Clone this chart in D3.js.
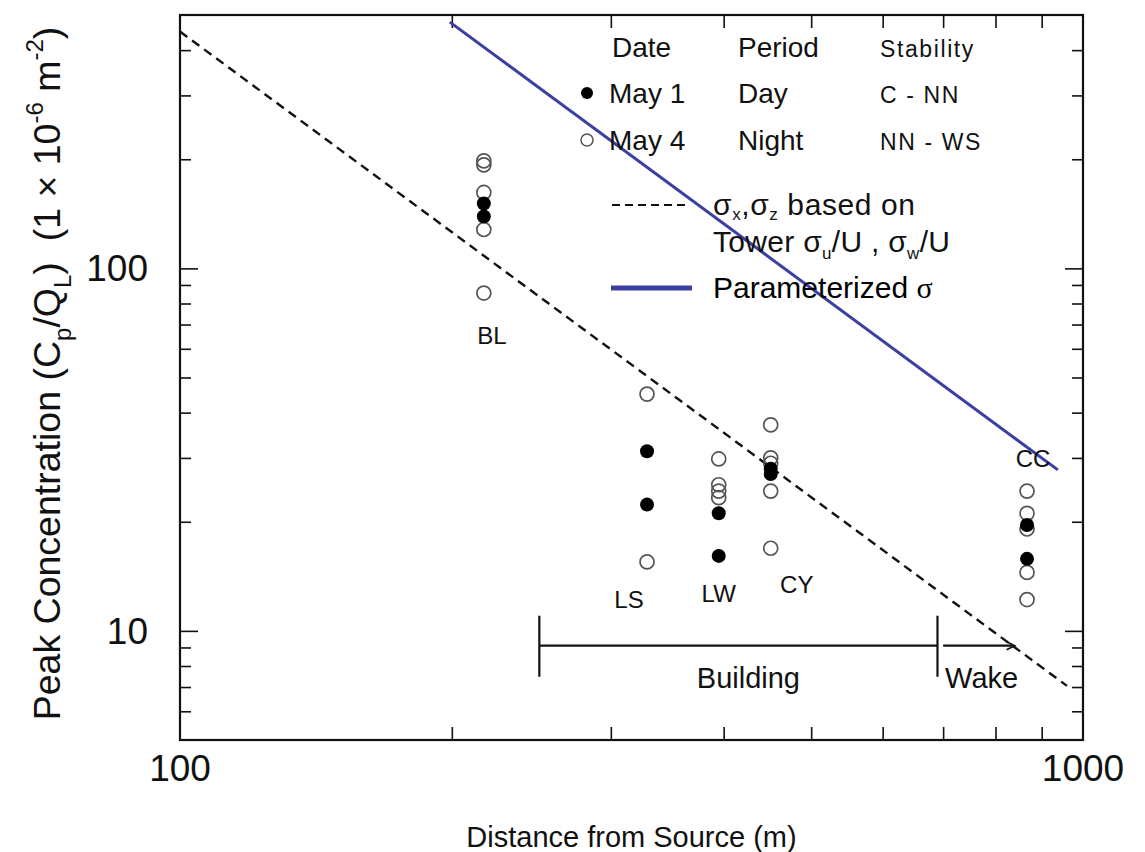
<!DOCTYPE html>
<html>
<head>
<meta charset="utf-8">
<script src="https://cdn.jsdelivr.net/npm/d3@7"></script>
<style>
    body { margin: 0; background: #fff; }
    svg { display: block; font-family: "Liberation Sans", Arial, sans-serif; }
    text { white-space: pre; }
</style>
</head>
<body>
<div id="chart"></div>
<script>
// sites and their distance from the source (m)
const sites = ["BL", "LS", "LW", "CY", "CC"];
const siteDistance = [217, 329, 395, 451, 867];

// peak concentrations, per site
const may1Values = [
    [151, 139],
    [31.3, 22.3],
    [21.1, 16.1],
    [28.0, 27.1],
    [19.6, 15.8]
];
const may4Values = [
    [198, 193, 162, 128, 85.5],
    [45.0, 15.5],
    [29.8, 25.3, 24.3, 23.3],
    [37.0, 30.0, 29.0, 24.3, 16.9],
    [24.3, 21.1, 19.1, 14.5, 12.2]
];

// model lines (end points)
const towerDist = [100, 960];
const towerConc = [450, 7.05];
const paramDist = [199, 938];
const paramConc = [478, 27.8];

// building / wake zones
const buildingRange = [250, 690];
const wakeRange = [700, 840];
const zoneLevel = 9.1;

// ticks
const xMajor = [100, 1000];
const xMinor = [200, 300, 400, 500, 600, 700, 800, 900];
const yMajor = [10, 100];
const yMinor = [6, 7, 8, 9, 20, 30, 40, 50, 60, 70, 80, 90, 200, 300, 400];

// margins
let margin = {top: 15, right: 62, bottom: 112, left: 180},
    width = 1145 - margin.left - margin.right,
    height = 852 - margin.top - margin.bottom;

const blue = "#3b3f9f";

let svg = d3.select("#chart")
    .append("svg")
    .attr("width", 1145)
    .attr("height", 852);

let g = svg.append("g")
    .attr("transform", "translate(" + margin.left + "," + margin.top + ")");

// scales
const x = d3.scaleLog().domain([100, 1000]).range([0, width]);
const y = d3.scaleLog().domain([5, 500]).range([height, 0]);

// write text with sub / superscripts, parts = [[string, "sub"|"sup"|null], ...]
function richText(sel, parts, smallSize, subShift) {
    let offset = 0;
    parts.forEach(p => {
        let shift = p[1] === "sub" ? (subShift || 0.3) : p[1] === "sup" ? -0.45 : 0;
        let t = sel.append("tspan").text(p[0]);
        let fs = parseFloat(sel.attr("font-size"));
        let dy = (shift - offset) * fs;
        if (dy !== 0) t.attr("dy", dy);
        if (p[1]) t.attr("font-size", smallSize);
        offset = shift;
    });
}

// inward ticks on all four sides
function ticks(axis, values, size) {
    return axis.tickValues(values).tickSize(-size).tickFormat("");
}
g.append("g").attr("transform", "translate(0," + height + ")")
    .call(ticks(d3.axisBottom(x), xMinor, 13));
g.append("g")
    .call(ticks(d3.axisTop(x), xMinor, 13));
g.append("g").call(ticks(d3.axisLeft(y), yMinor, 11));
g.append("g").call(ticks(d3.axisLeft(y), yMajor, 18));
g.append("g").attr("transform", "translate(" + width + ",0)")
    .call(ticks(d3.axisRight(y), yMinor, 11));
g.append("g").attr("transform", "translate(" + width + ",0)")
    .call(ticks(d3.axisRight(y), yMajor, 18));
g.selectAll(".domain").remove();
g.selectAll(".tick line").attr("stroke", "#111").attr("stroke-width", 1.6);

// frame
g.append("rect")
    .attr("width", width)
    .attr("height", height)
    .attr("fill", "none")
    .attr("stroke", "#111")
    .attr("stroke-width", 2.2);

// tick labels
g.selectAll(".x-label")
    .data(xMajor)
    .enter().append("text")
    .attr("x", d => x(d))
    .attr("y", height + 41)
    .attr("text-anchor", "middle")
    .attr("font-size", 37)
    .attr("fill", "#111")
    .text(d => d);
g.selectAll(".y-label")
    .data(yMajor)
    .enter().append("text")
    .attr("x", -32)
    .attr("y", d => y(d) + 13)
    .attr("text-anchor", "end")
    .attr("font-size", 37)
    .attr("fill", "#111")
    .text(d => d);

// axis titles
svg.append("text")
    .attr("x", margin.left + width / 2)
    .attr("y", 847)
    .attr("text-anchor", "middle")
    .attr("font-size", 29)
    .attr("fill", "#111")
    .text("Distance from Source (m)");

let yTitle = svg.append("text")
    .attr("transform", "translate(60," + (margin.top + height / 2 - 4) + ") rotate(-90)")
    .attr("text-anchor", "middle")
    .attr("font-size", 37.5)
    .attr("fill", "#111");
richText(yTitle, [["Peak Concentration (C"], ["p", "sub"], ["/Q"], ["L", "sub"],
    [")  (1 × 10"], ["-6", "sup"], [" m"], ["-2", "sup"], [")"]], 24);

// model lines
const line = d3.line().x(d => x(d[0])).y(d => y(d[1]));
g.append("path")
    .datum(d3.zip(towerDist, towerConc))
    .attr("d", line)
    .attr("fill", "none")
    .attr("stroke", "#111")
    .attr("stroke-width", 2.4)
    .attr("stroke-dasharray", "9,6");
g.append("path")
    .datum(d3.zip(paramDist, paramConc))
    .attr("d", line)
    .attr("fill", "none")
    .attr("stroke", blue)
    .attr("stroke-width", 3);

// building / wake markers
const zy = y(zoneLevel);
g.append("line")
    .attr("x1", x(buildingRange[0])).attr("x2", x(buildingRange[1]))
    .attr("y1", zy).attr("y2", zy)
    .attr("stroke", "#111").attr("stroke-width", 2.2);
buildingRange.forEach(d => {
    g.append("line")
        .attr("x1", x(d)).attr("x2", x(d))
        .attr("y1", zy - 30).attr("y2", zy + 31)
        .attr("stroke", "#111").attr("stroke-width", 2.2);
});
g.append("line")
    .attr("x1", x(wakeRange[0])).attr("x2", x(wakeRange[1]) - 2)
    .attr("y1", zy).attr("y2", zy)
    .attr("stroke", "#111").attr("stroke-width", 2.2);
g.append("path")
    .attr("d", "M" + (x(wakeRange[1]) - 8) + "," + (zy - 4) + " L" + x(wakeRange[1]) + "," + zy +
        " L" + (x(wakeRange[1]) - 8) + "," + (zy + 4))
    .attr("fill", "none").attr("stroke", "#111").attr("stroke-width", 1.8);
g.append("text")
    .attr("x", x(Math.sqrt(buildingRange[0] * buildingRange[1])) + 10)
    .attr("y", zy + 42)
    .attr("text-anchor", "middle")
    .attr("font-size", 29)
    .attr("fill", "#111")
    .text("Building");
g.append("text")
    .attr("x", x(wakeRange[0]) + 2)
    .attr("y", zy + 42)
    .attr("font-size", 29)
    .attr("fill", "#111")
    .text("Wake");

// data points
const may4Pts = [], may1Pts = [];
sites.forEach((s, i) => {
    may4Values[i].forEach(v => may4Pts.push([siteDistance[i], v]));
    may1Values[i].forEach(v => may1Pts.push([siteDistance[i], v]));
});
g.selectAll(".open")
    .data(may4Pts)
    .enter().append("circle")
    .attr("class", "open")
    .attr("cx", d => x(d[0]))
    .attr("cy", d => y(d[1]))
    .attr("r", 7)
    .attr("fill", "none")
    .attr("stroke", "#555")
    .attr("stroke-width", 1.7);
g.selectAll(".filled")
    .data(may1Pts)
    .enter().append("circle")
    .attr("class", "filled")
    .attr("cx", d => x(d[0]))
    .attr("cy", d => y(d[1]))
    .attr("r", 7)
    .attr("fill", "#000");

// site labels (offsets from each column)
const labelOffset = [[8, 51, 85.5], [-18, 46, 15.5], [0, 46, 16.1], [26, 45, 16.9], [6, -24, 24.3]];
g.selectAll(".site")
    .data(sites)
    .enter().append("text")
    .attr("x", (d, i) => x(siteDistance[i]) + labelOffset[i][0])
    .attr("y", (d, i) => y(labelOffset[i][2]) + labelOffset[i][1])
    .attr("text-anchor", "middle")
    .attr("font-size", 24)
    .attr("fill", "#111")
    .text(d => d);

// legend
const lg = svg.append("g");
const headers = [["Date", 612, 28, 0], ["Period", 738, 28, 0], ["Stability", 880, 23, 1.6]];
const rows = [
    ["May 1", "Day", "C - NN"],
    ["May 4", "Night", "NN - WS"]
];
headers.forEach(h => {
    lg.append("text").attr("x", h[1]).attr("y", 57).attr("font-size", h[2])
        .attr("letter-spacing", h[3]).attr("fill", "#111").text(h[0]);
});
rows.forEach((r, i) => {
    const yy = 103 + i * 47;
    r.forEach((t, j) => {
        lg.append("text").attr("x", headers[j][1] - (j === 0 ? 3 : 0)).attr("y", yy)
            .attr("font-size", headers[j][2]).attr("letter-spacing", headers[j][3])
            .attr("fill", "#111").text(t);
    });
    lg.append("circle").attr("cx", 587).attr("cy", yy - 10).attr("r", 6)
        .attr("fill", i === 0 ? "#000" : "none")
        .attr("stroke", i === 0 ? "none" : "#555")
        .attr("stroke-width", 1.5);
});
lg.append("line").attr("x1", 612).attr("x2", 688).attr("y1", 205).attr("y2", 205)
    .attr("stroke", "#111").attr("stroke-width", 2).attr("stroke-dasharray", "8,5");
let l1 = lg.append("text").attr("x", 713).attr("y", 215).attr("font-size", 30)
    .attr("letter-spacing", 0.6).attr("fill", "#111");
richText(l1, [["σ"], ["x", "sub"], [",σ"], ["z", "sub"], [" based on"]], 17, 0.16);
let l2 = lg.append("text").attr("x", 713).attr("y", 252).attr("font-size", 30)
    .attr("letter-spacing", 0.3).attr("fill", "#111");
richText(l2, [["Tower σ"], ["u", "sub"], ["/U , σ"], ["w", "sub"], ["/U"]], 17, 0.22);
lg.append("line").attr("x1", 611).attr("x2", 692).attr("y1", 288).attr("y2", 288)
    .attr("stroke", blue).attr("stroke-width", 5);
let l3 = lg.append("text").attr("x", 713).attr("y", 298).attr("font-size", 30).attr("fill", "#000");
l3.append("tspan").text("Parameterized ");
l3.append("tspan").attr("font-family", "'Liberation Serif', serif").text("σ");
</script>
</body>
</html>
